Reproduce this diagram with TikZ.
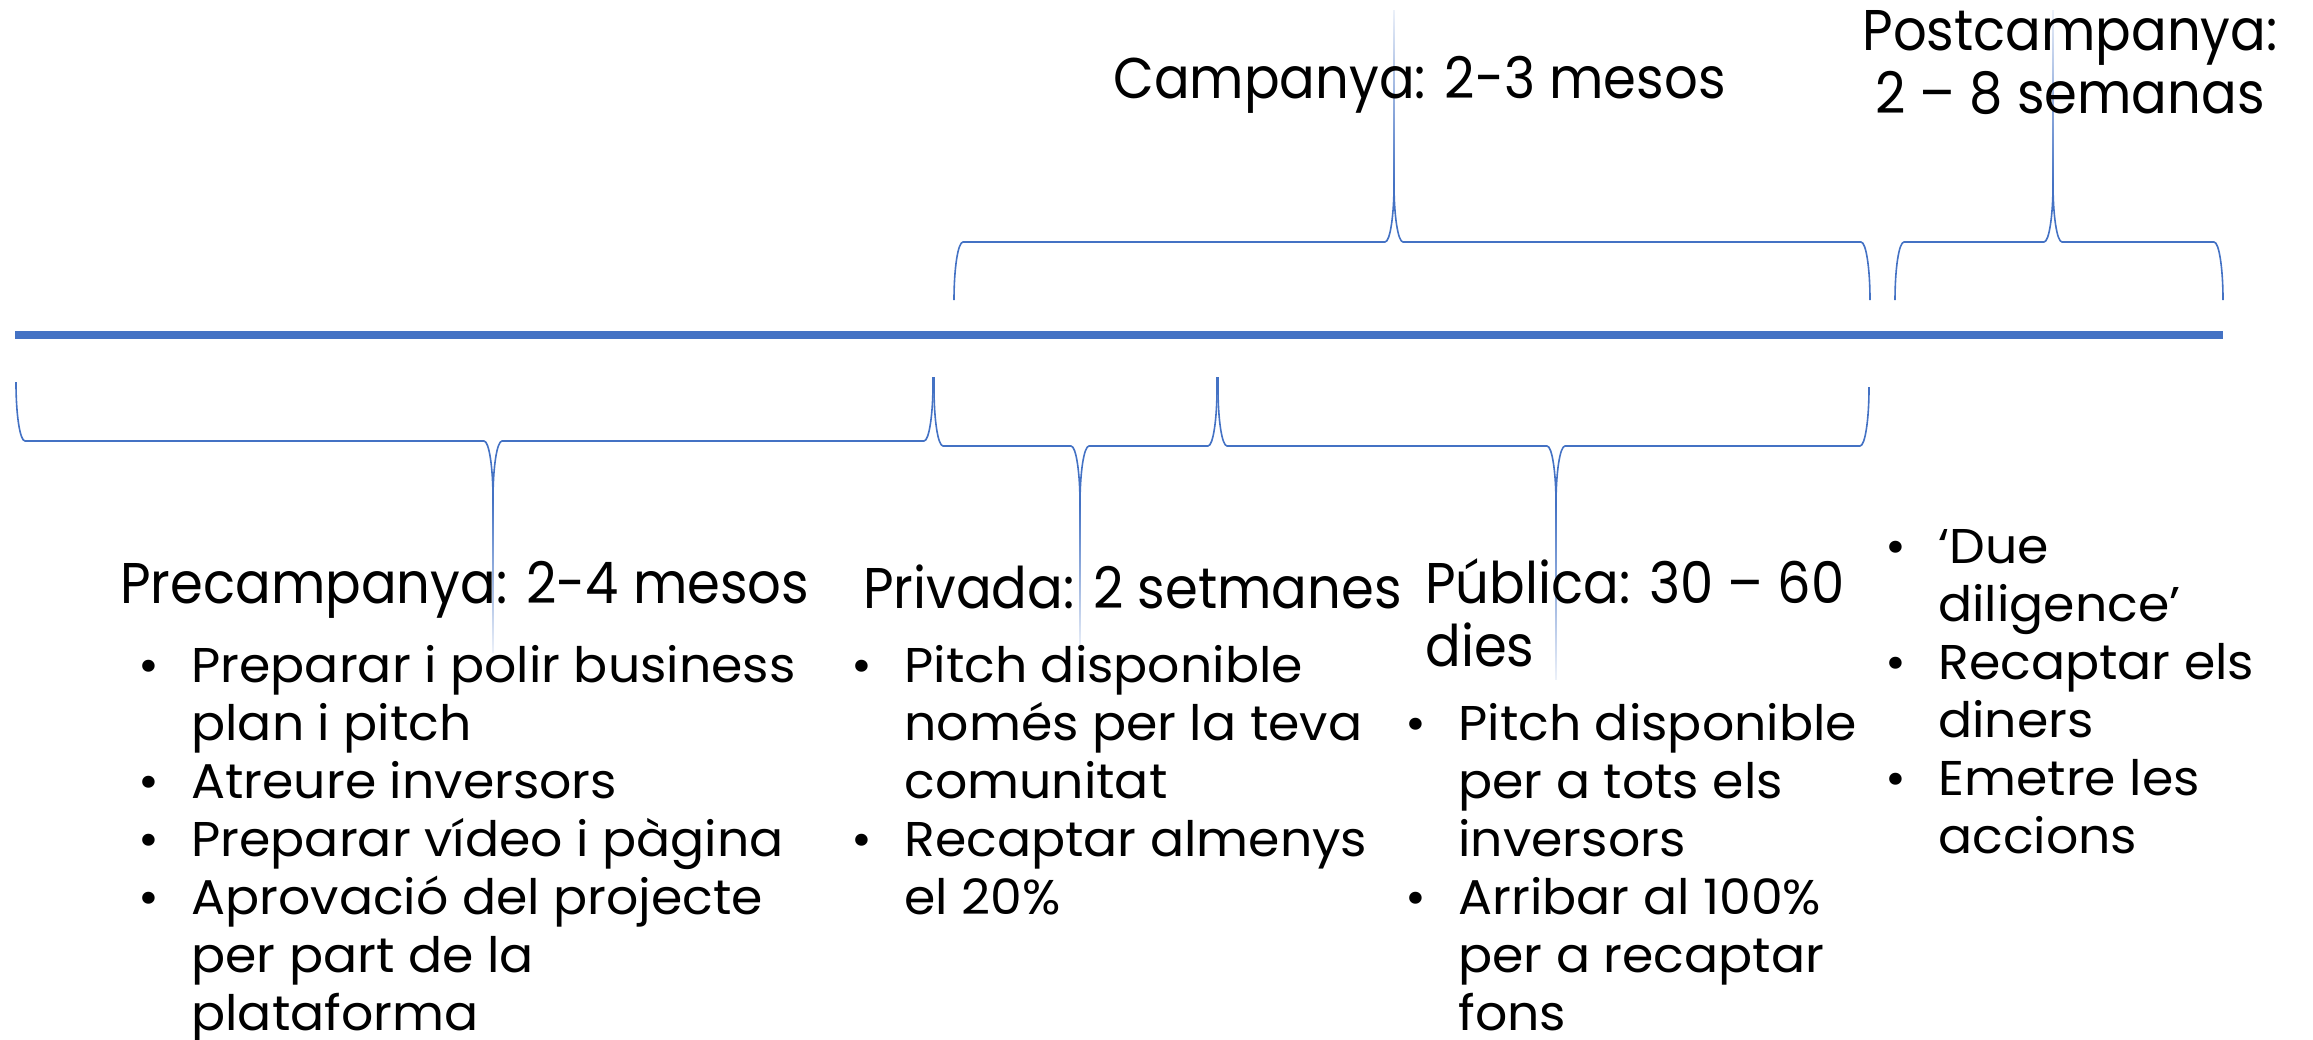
\documentclass[tikz,border=0pt]{standalone}
\usepackage{fontspec}
\setmainfont{Poppins}
\newfontfamily\headfont{Poppins}[FakeStretch=0.92]
\newfontfamily\listfont{Poppins}[FakeStretch=1.035]
\definecolor{lineblue}{HTML}{4472C4}
% brace: x1 y1 x2 y2 ybar xtip dir
\newcommand\tlbrace[7]{%
  \draw[bracelin] (#1,#2) -- (#1,{#5-58*#7}) .. controls (#1,{#5-26*#7}) and ({#1+4},#5) .. ({#1+9},#5)
    -- ({#6-9},#5) .. controls ({#6-4},#5) and (#6,{#5+26*#7}) .. (#6,{#5+58*#7})
    .. controls (#6,{#5+26*#7}) and ({#6+4},#5) .. ({#6+9},#5)
    -- ({#3-9},#5) .. controls ({#3-4},#5) and (#3,{#5-26*#7}) .. (#3,{#5-58*#7}) -- (#3,#4);}

\begin{document}
\begin{tikzpicture}[x=0.5pt, y=-0.5pt,
    bracelin/.style={draw=lineblue, line width=0.8pt},
    head/.style={inner sep=0pt, anchor=base west, font=\headfont\fontsize{28.7}{31.5}\selectfont},
    list/.style={inner sep=0pt, anchor=base west, font=\listfont\fontsize{24.4}{29}\selectfont}]
\useasboundingbox (0,0) rectangle (2313,1039);
\coordinate (start) at (15,335);
\coordinate (end) at (2223,335);
\draw[lineblue, line width=4pt] (start) -- (end);

% braces above the line
\tlbrace{954}{300}{1870}{300}{242}{1394}{-1}
\tlbrace{1895}{300}{2223}{300}{242}{2053}{-1}
\shade[top color=lineblue!10, middle color=lineblue, bottom color=lineblue] (1393.2,10) rectangle (1394.8,184);
\shade[top color=lineblue!10, middle color=lineblue, bottom color=lineblue] (2052.2,10) rectangle (2053.8,184);

% braces below the line
\tlbrace{16}{382}{933}{377}{441}{493}{1}
\tlbrace{934}{377}{1217}{377}{446}{1080}{1}
\tlbrace{1218}{377}{1869}{387}{446}{1556}{1}
\shade[top color=lineblue, middle color=lineblue, bottom color=lineblue!10] (492.2,499) rectangle (493.8,652);
\shade[top color=lineblue, middle color=lineblue, bottom color=lineblue!10] (1079.2,504) rectangle (1080.8,649);
\shade[top color=lineblue, middle color=lineblue, bottom color=lineblue!10] (1555.2,504) rectangle (1556.8,679);

% headings
\node[head] (camp) at (1113,98) {Campanya: 2-3 mesos};
\node[head, anchor=base] (post) at (2070,50) {\begin{tabular}[t]{@{}c@{}}Postcampanya:\\2 – 8 semanas\end{tabular}};
\node[head] (pre) at (120,603) {Precampanya: 2-4 mesos};
\node[head] (priv) at (863,608) {Privada: 2 setmanes};
\node[head] (pub) at (1425,603) {\begin{tabular}[t]{@{}l@{}}Pública: 30 – 60\\dies\end{tabular}};

% bullet lists
\node[list] (preL) at (138,682) {\begin{tabular}[t]{@{}p{26.5pt}@{}l@{}}
\textbullet & Preparar i polir business\\
 & plan i pitch\\
\textbullet & Atreure inversors\\
\textbullet & Preparar vídeo i pàgina\\
\textbullet & Aprovació del projecte\\
 & per part de la\\
 & plataforma
\end{tabular}};
\node[list] (privL) at (851,682) {\begin{tabular}[t]{@{}p{26.5pt}@{}l@{}}
\textbullet & Pitch disponible\\
 & només per la teva\\
 & comunitat\\
\textbullet & Recaptar almenys\\
 & el 20\%
\end{tabular}};
\node[list] (pubL) at (1405,740) {\begin{tabular}[t]{@{}p{26.5pt}@{}l@{}}
\textbullet & Pitch disponible\\
 & per a tots els\\
 & inversors\\
\textbullet & Arribar al 100\%\\
 & per a recaptar\\
 & fons
\end{tabular}};
\node[list] (postL) at (1885,563) {\begin{tabular}[t]{@{}p{26.5pt}@{}l@{}}
\textbullet & ‘Due\\
 & diligence’\\
\textbullet & Recaptar els\\
 & diners\\
\textbullet & Emetre les\\
 & accions
\end{tabular}};
\end{tikzpicture}
\end{document}
